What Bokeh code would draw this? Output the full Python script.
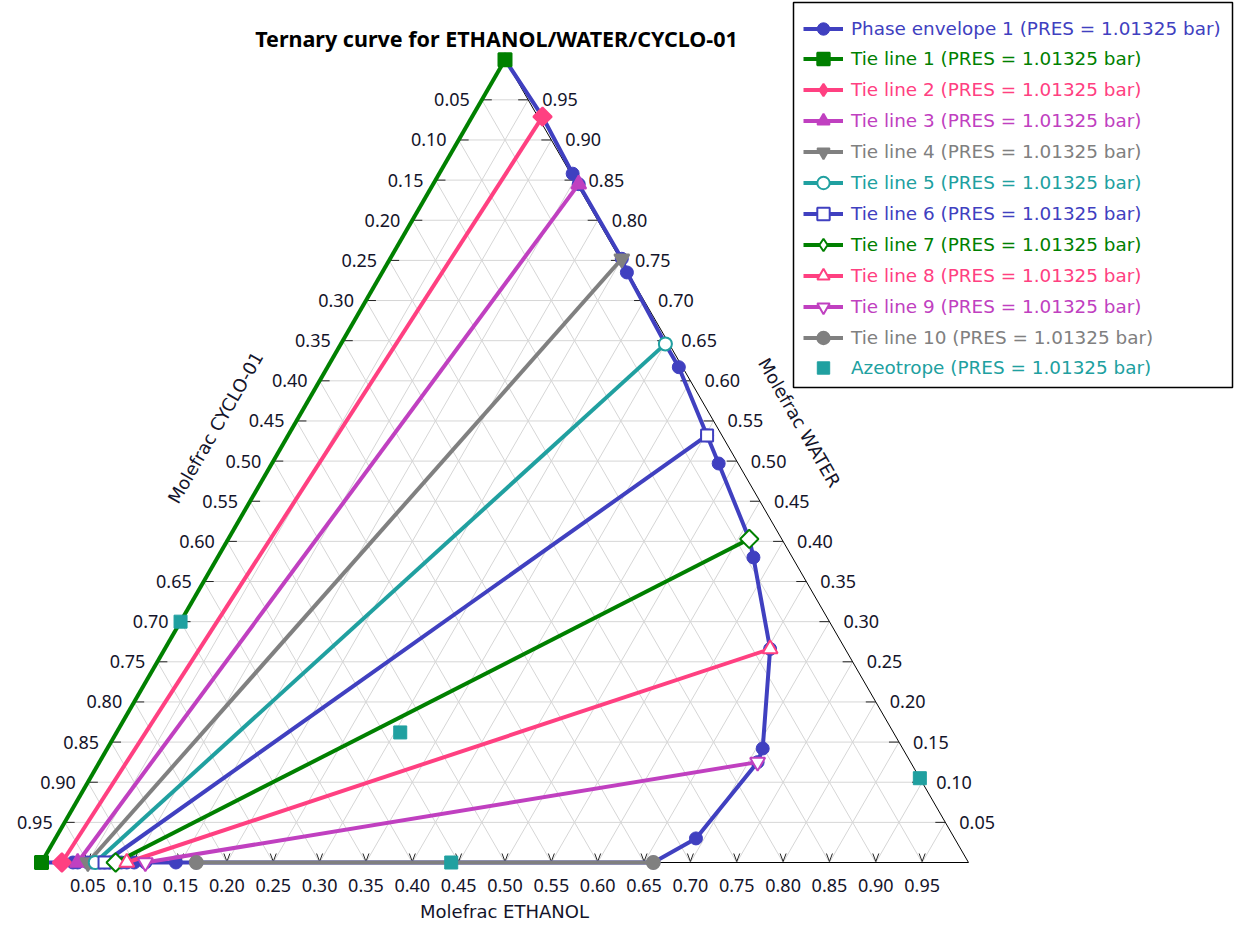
import math
from bokeh.plotting import figure
from bokeh.models import Range1d, Legend, LegendItem
from bokeh.core.properties import value
from bokeh.embed import file_html
from bokeh.resources import INLINE

# ---------------- data ----------------
ticks = [0.05, 0.10, 0.15, 0.20, 0.25, 0.30, 0.35, 0.40, 0.45, 0.50,
         0.55, 0.60, 0.65, 0.70, 0.75, 0.80, 0.85, 0.90, 0.95]
tick_labels = ["0.05", "0.10", "0.15", "0.20", "0.25", "0.30", "0.35", "0.40", "0.45", "0.50",
               "0.55", "0.60", "0.65", "0.70", "0.75", "0.80", "0.85", "0.90", "0.95"]

# phase envelope (mole fractions of ETHANOL and WATER; CYCLO-01 = 1 - both)
env_ethanol = [0.000, 0.076, 0.144, 0.157, 0.250, 0.264, 0.350, 0.379, 0.452, 0.482,
               0.562, 0.578, 0.653, 0.707, 0.710, 0.691, 0.660,
               0.167, 0.145, 0.112, 0.100, 0.092, 0.086, 0.080, 0.074, 0.068,
               0.063, 0.058, 0.054, 0.050, 0.039, 0.034, 0.022, 0.000]
env_water = [1.000, 0.929, 0.858, 0.845, 0.752, 0.735, 0.646, 0.617, 0.532, 0.497,
             0.403, 0.380, 0.266, 0.142, 0.125, 0.030, 0.000,
             0.000, 0.000, 0.000, 0.000, 0.000, 0.000, 0.000, 0.000, 0.000,
             0.000, 0.000, 0.000, 0.000, 0.000, 0.000, 0.000, 0.000]

tie_names = ["Tie line 1", "Tie line 2", "Tie line 3", "Tie line 4", "Tie line 5",
             "Tie line 6", "Tie line 7", "Tie line 8", "Tie line 9", "Tie line 10"]
tie_left_ethanol = [0.000, 0.022, 0.039, 0.050, 0.058, 0.068, 0.080, 0.092, 0.112, 0.167]
tie_left_water = [0.000, 0.000, 0.000, 0.000, 0.000, 0.000, 0.000, 0.000, 0.000, 0.000]
tie_right_ethanol = [0.000, 0.076, 0.157, 0.250, 0.350, 0.452, 0.562, 0.653, 0.710, 0.660]
tie_right_water = [1.000, 0.929, 0.845, 0.752, 0.646, 0.532, 0.403, 0.266, 0.125, 0.000]

azeo_ethanol = [0.000, 0.306, 0.442, 0.895]
azeo_water = [0.300, 0.162, 0.000, 0.105]

pres_suffix = " (PRES = 1.01325 bar)"

# ---------------- styles ----------------
BLUE = "#4040c0"
GREEN = "#008000"
PINK = "#ff4081"
MAG = "#c040c0"
GRAY = "#808080"
TEAL = "#20a0a0"
tie_colors = [GREEN, PINK, MAG, GRAY, TEAL, BLUE, GREEN, PINK, MAG, GRAY]
tie_markers = ["square", "diamond", "triangle", "inverted_triangle", "circle",
               "square", "diamond", "triangle", "inverted_triangle", "circle"]
tie_sizes = [13, 13, 15, 15, 13, 12, 13, 15, 15, 13]
tie_filled = [True, True, True, True, False, False, False, False, False, True]

S3 = math.sqrt(3) / 2


def cx(e, w):
    return e + w / 2.0


def cy(w):
    return w * S3


def xs(E, Wt):
    return [cx(e, w) for e, w in zip(E, Wt)]


def ys(Wt):
    return [cy(w) for w in Wt]


SC = 927.0            # pixels per unit of composition
WID, HEI = 1234, 928
OX = 41               # pure CYCLO corner, px from frame left
OY = HEI - 862        # pure CYCLO corner, px from frame bottom


def px2x(px):
    return (px - OX) / SC


def py2y(py):
    return (862 - py) / SC


p = figure(width=WID, height=HEI,
           x_range=Range1d(-OX / SC, (WID - OX) / SC),
           y_range=Range1d(-OY / SC, (HEI - OY) / SC),
           output_backend="svg", toolbar_location=None,
           x_axis_location=None, y_axis_location=None, min_border=0)
p.grid.visible = False
p.outline_line_color = None
p.background_fill_color = "white"
p.border_fill_color = "white"

# grid
gx, gy = [], []
for t in ticks:
    for (e0, w0, e1, w1) in [(0, t, 1 - t, t), (t, 0, t, 1 - t), (1 - t, 0, 0, 1 - t)]:
        gx.append([cx(e0, w0), cx(e1, w1)])
        gy.append([cy(w0), cy(w1)])
p.multi_line(gx, gy, line_color="#d6d6d6", line_width=1)

# triangle border
p.line(xs([0, 1, 0, 0], [0, 0, 1, 0]), ys([0, 0, 1, 0]), line_color="black", line_width=1)

# tick marks
TL = 10 / SC
tkx, tky = [], []
for c in ticks:           # left (CYCLO) axis
    w = 1 - c
    tkx.append([cx(0, w), cx(0, w) + TL]); tky.append([cy(w), cy(w)])
for w in ticks:           # right (WATER) axis
    tkx.append([cx(1 - w, w), cx(1 - w, w) - TL]); tky.append([cy(w), cy(w)])
for e in ticks:           # bottom (ETHANOL) axis
    tkx.append([e - TL * 0.3, e, e + TL * 0.3]); tky.append([TL * 0.9, TL * 0.1, TL * 0.9])
p.multi_line(tkx, tky, line_color="#222222", line_width=1)

TICK_FONT = value("Noto Sans")
TFS = "18px"
TCOL = "#14142a"
# left tick labels
p.text(x=[cx(0, 1 - c) for c in ticks], y=[cy(1 - c) for c in ticks], text=tick_labels,
       x_offset=-12, text_align="right", text_baseline="middle",
       text_font=TICK_FONT, text_font_size=TFS, text_color=TCOL)
# right tick labels
p.text(x=[cx(1 - w, w) for w in ticks], y=[cy(w) for w in ticks], text=tick_labels,
       x_offset=14, text_align="left", text_baseline="middle",
       text_font=TICK_FONT, text_font_size=TFS, text_color=TCOL)
# bottom tick labels
p.text(x=[cx(e, 0) for e in ticks], y=[0 for e in ticks], text=tick_labels,
       y_offset=23, text_align="center", text_baseline="middle",
       text_font=TICK_FONT, text_font_size=TFS, text_color=TCOL)

# axis titles and title
AX_FONT = value("DejaVu Sans")
p.text(x=[px2x(504)], y=[py2y(911)], text=["Molefrac ETHANOL"], text_align="center",
       text_baseline="middle", text_font=AX_FONT, text_font_size="18px", text_color=TCOL)
p.text(x=[px2x(215)], y=[py2y(427)], text=["Molefrac CYCLO-01"], angle=math.pi / 3,
       text_align="center", text_baseline="middle", text_font=AX_FONT, text_font_size="18px",
       text_color=TCOL)
p.text(x=[px2x(799)], y=[py2y(422)], text=["Molefrac WATER"], angle=-math.pi / 3,
       text_align="center", text_baseline="middle", text_font=AX_FONT, text_font_size="18px",
       text_color=TCOL)
p.text(x=[px2x(496)], y=[py2y(38)], text=["Ternary curve for ETHANOL/WATER/CYCLO-01"],
       text_align="center", text_baseline="middle", text_font=value("Noto Sans"),
       text_font_size="21.5px", text_font_style="bold", text_color="black")

# envelope
legend_entries = []
env_line = p.line(xs(env_ethanol, env_water), ys(env_water), line_color=BLUE, line_width=4)
env_pts = p.scatter(xs(env_ethanol, env_water), ys(env_water), marker="circle", size=13,
                    fill_color=BLUE, line_color=BLUE)
legend_entries.append(("Phase envelope 1" + pres_suffix, BLUE, [env_line, env_pts]))

# tie lines
for i in range(len(tie_names)):
    col = tie_colors[i]
    fill = col if tie_filled[i] else "white"
    X = xs([tie_left_ethanol[i], tie_right_ethanol[i]], [tie_left_water[i], tie_right_water[i]])
    Y = ys([tie_left_water[i], tie_right_water[i]])
    ln = p.line(X, Y, line_color=col, line_width=4)
    sc = p.scatter(X, Y, marker=tie_markers[i], size=tie_sizes[i] + (3 if tie_markers[i] == "diamond" else 0),
                   fill_color=fill, line_color=col, line_width=2)
    if tie_markers[i] == "diamond":
        # wider diamond on top (square turned by 45 degrees) like the original
        p.scatter(X, Y, marker="square", size=tie_sizes[i], angle=math.pi / 4,
                  fill_color=fill, line_color=col, line_width=2)
    legend_entries.append((tie_names[i] + pres_suffix, col, [ln, sc]))

# azeotropes
az = p.scatter(xs(azeo_ethanol, azeo_water), ys(azeo_water), marker="square", size=13,
               fill_color=TEAL, line_color=TEAL)
legend_entries.append(("Azeotrope" + pres_suffix, TEAL, [az]))

# legend box
BOX_L, BOX_R, BOX_T, BOX_B = 793, 1232, 2, 387
p.quad(left=[px2x(BOX_L)], right=[px2x(BOX_R)], top=[py2y(BOX_T)], bottom=[py2y(BOX_B)],
       fill_color="white", line_color="black", line_width=1.5)

ROW0, PITCH, ROWH = 28, 30.9, 31
for k, (lab, col, rends) in enumerate(legend_entries):
    center = ROW0 + PITCH * k
    bottom = HEI - (center + ROWH / 2.0)
    lg = Legend(items=[LegendItem(label=lab, renderers=rends)],
                location=(803, bottom), padding=0, margin=0, spacing=0,
                border_line_color=None, background_fill_alpha=0,
                glyph_width=40, glyph_height=ROWH, label_height=ROWH, label_standoff=8,
                label_text_font="DejaVu Sans", label_text_font_size="18.4px",
                label_text_color=col, label_text_baseline="middle")
    p.add_layout(lg)

open("out.html", "w").write(file_html(p, INLINE))
